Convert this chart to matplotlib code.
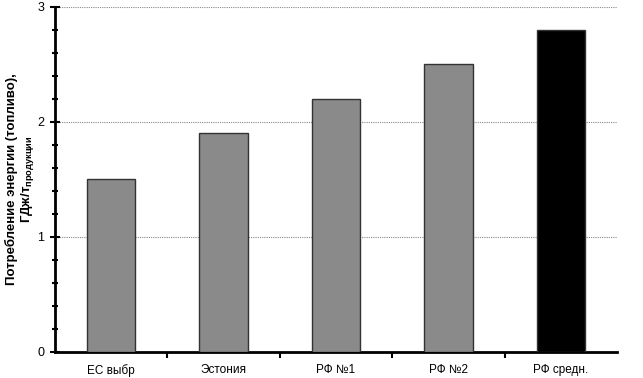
import numpy as np
import matplotlib.pyplot as plt
from matplotlib.ticker import MultipleLocator, FixedLocator

plt.rcParams['font.family'] = ['Liberation Sans', 'DejaVu Sans']
plt.rcParams['mathtext.fontset'] = 'custom'
plt.rcParams['mathtext.rm'] = 'Liberation Sans:bold'
plt.rcParams['mathtext.default'] = 'rm'

categories = ["ЕС выбр", "Эстония", "РФ №1", "РФ №2", "РФ средн."]
values = [1.5, 1.9, 2.2, 2.5, 2.8]
colors = ["#8a8a8a", "#8a8a8a", "#8a8a8a", "#8a8a8a", "#000000"]

fig = plt.figure(figsize=(6.43, 3.78), dpi=100)
ax = fig.add_axes([0.0855, 0.069, 0.874, 0.9125])

x = np.arange(len(categories))
ax.bar(x, values, width=0.43, color=colors, edgecolor="#333333", linewidth=1, zorder=3)

ax.set_xlim(-0.5, len(categories) - 0.5)
ax.set_ylim(0, 3)
ax.yaxis.set_major_locator(MultipleLocator(1))
ax.yaxis.set_minor_locator(MultipleLocator(0.2))
ax.set_xticks(x)
ax.set_xticklabels(categories, fontsize=8.5)
ax.xaxis.set_minor_locator(FixedLocator(np.arange(0.5, len(categories) - 0.5, 1)))
ax.tick_params(axis='x', which='major', length=0, pad=9)
ax.tick_params(axis='x', which='minor', direction='out', length=4, width=1.5)
ax.tick_params(axis='y', which='both', direction='inout', width=1.5)
ax.tick_params(axis='y', which='major', length=7, labelsize=9, pad=4)
ax.tick_params(axis='y', which='minor', length=5)

ax.grid(axis='y', which='major', color='#888888', linestyle=(0, (1, 1)), linewidth=0.8, zorder=0)

for s in ['top', 'right']:
    ax.spines[s].set_visible(False)
ax.spines['left'].set_linewidth(2)
ax.spines['bottom'].set_linewidth(2)

ax.set_ylabel("Потребление энергии (топливо),\nГДж/т$_{продукции}$",
              fontsize=9.5, fontweight='bold', linespacing=1.15)
ax.yaxis.set_label_coords(-0.033, 0.5)

fig.savefig("out.png", dpi=100)
